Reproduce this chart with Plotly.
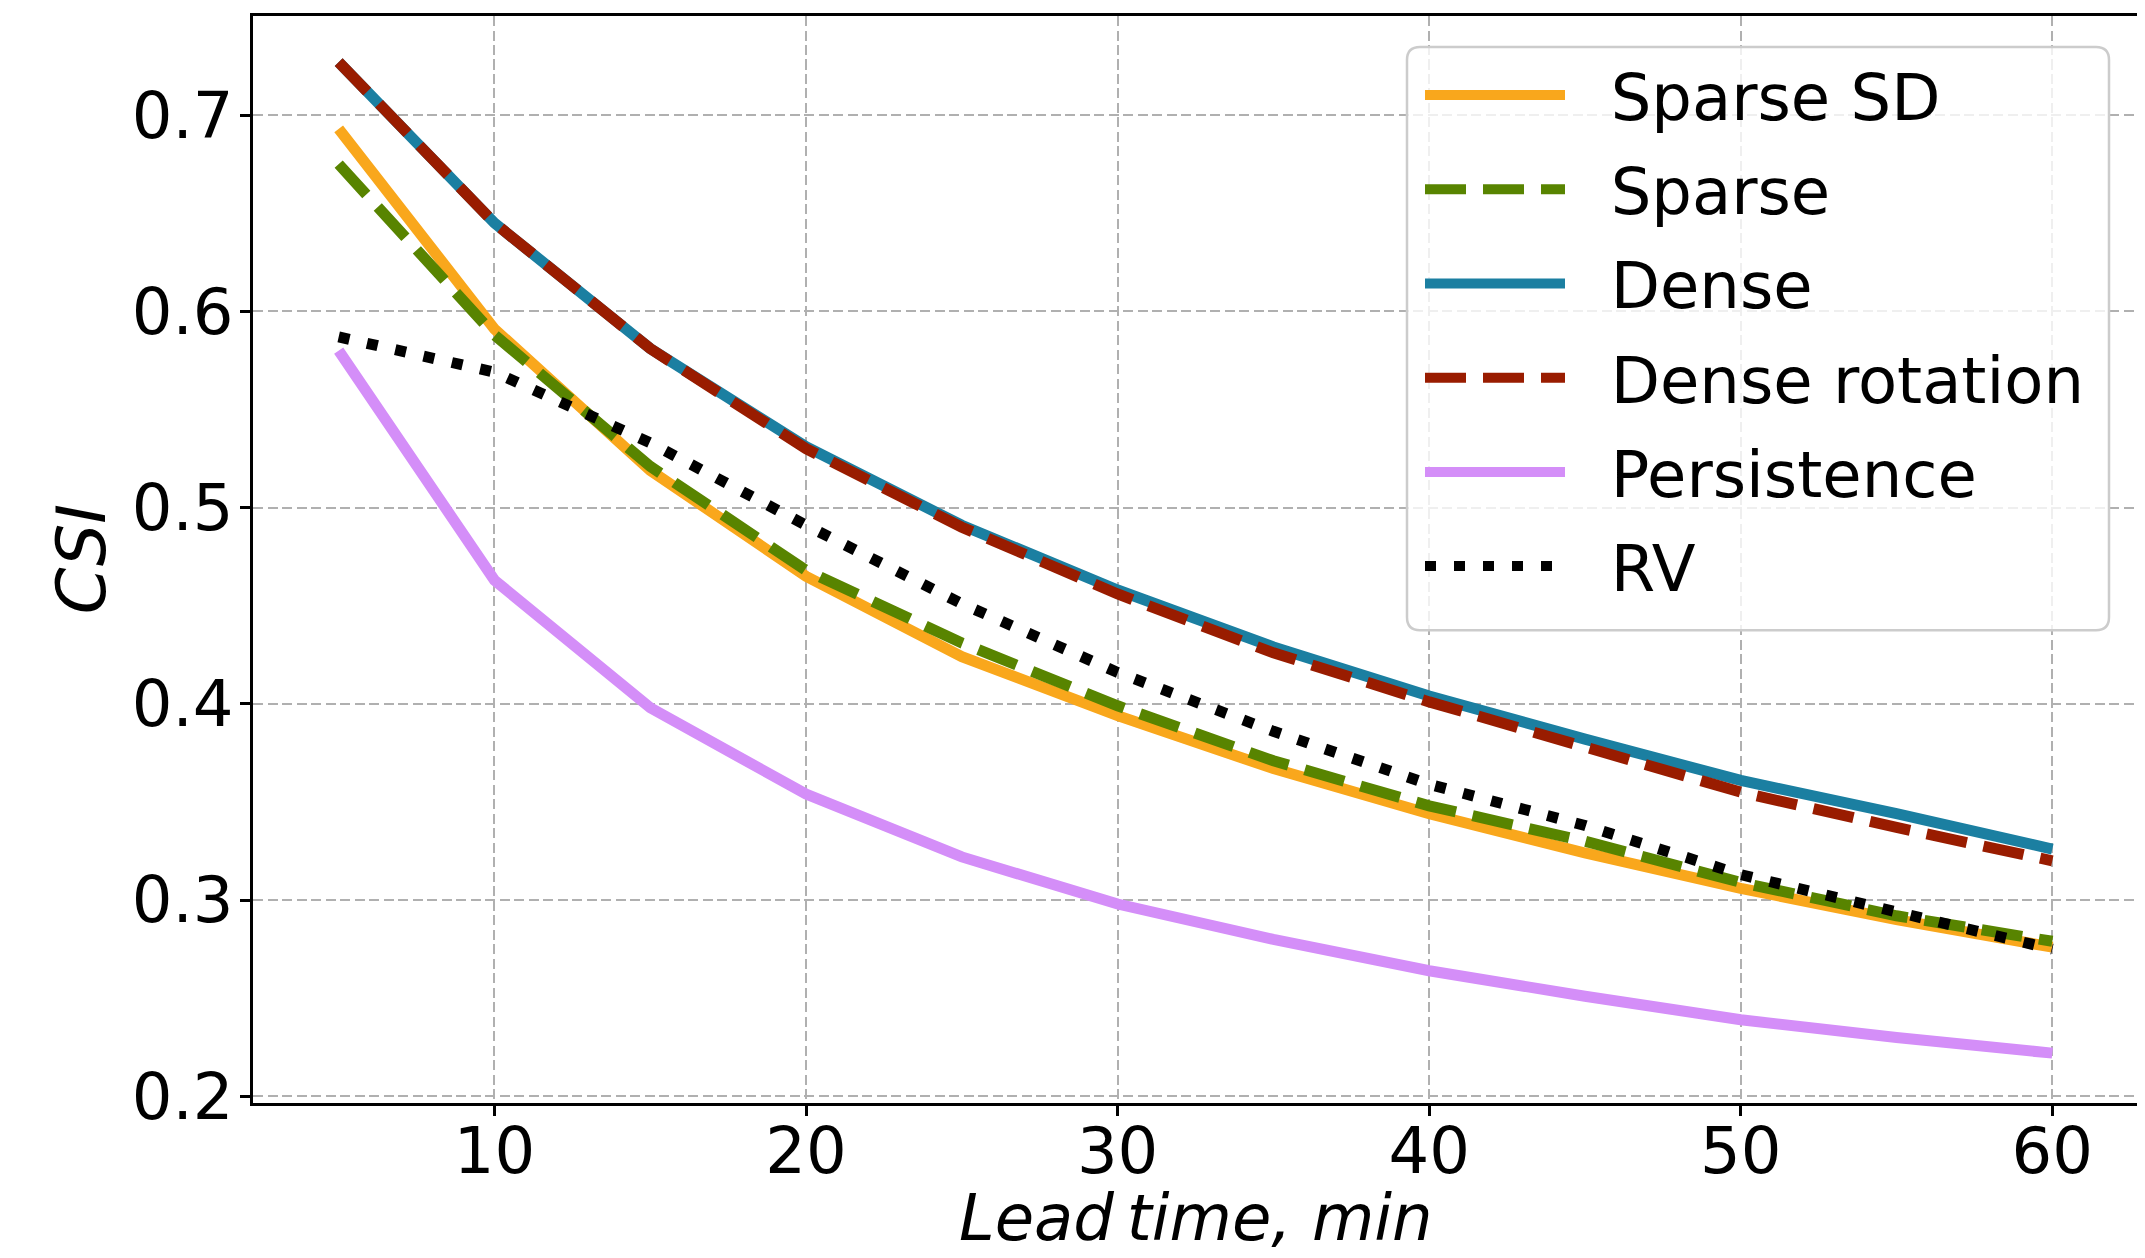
import plotly.graph_objects as go

lead_time = [5, 10, 15, 20, 25, 30, 35, 40, 45, 50, 55, 60]

sparse_sd = [0.693, 0.591, 0.519, 0.465, 0.424, 0.394, 0.367, 0.344, 0.324, 0.306, 0.290, 0.276]
sparse = [0.675, 0.588, 0.521, 0.468, 0.431, 0.399, 0.371, 0.348, 0.330, 0.309, 0.292, 0.279]
dense = [0.727, 0.645, 0.581, 0.531, 0.491, 0.458, 0.429, 0.404, 0.382, 0.361, 0.344, 0.326]
dense_rotation = [0.727, 0.645, 0.581, 0.530, 0.490, 0.456, 0.426, 0.401, 0.378, 0.355, 0.337, 0.320]
persistence = [0.580, 0.463, 0.398, 0.354, 0.322, 0.298, 0.280, 0.264, 0.251, 0.239, 0.230, 0.222]
rv = [0.587, 0.569, 0.533, 0.491, 0.451, 0.416, 0.386, 0.359, 0.338, 0.313, 0.294, 0.275]

x_ticks = [10, 20, 30, 40, 50, 60]
y_ticks = [0.2, 0.3, 0.4, 0.5, 0.6, 0.7]
y_tick_labels = ["0.2", "0.3", "0.4", "0.5", "0.6", "0.7"]

series = [
    ("Sparse SD", sparse_sd, "#F9A71C", "solid"),
    ("Sparse", sparse, "#588400", "41px,17px"),
    ("Dense", dense, "#1B7FA1", "solid"),
    ("Dense rotation", dense_rotation, "#991C00", "41px,17px"),
    ("Persistence", persistence, "#D48EF8", "solid"),
    ("RV", rv, "#000000", "11px,18px"),
]

# page has an 8px body margin: figure coords = page coords - 8
OFF = 8
W, H = 2145 - OFF, 1258 - OFF
L, R, T, B = 253 - OFF, 2138 - OFF, 16 - OFF, 1102.6 - OFF
FS = 64

fig = go.Figure()
for i, (name, vals, color, dash) in enumerate(series):
    fig.add_trace(go.Scatter(
        x=lead_time, y=vals, name="\u00a0\u00a0" + name, mode="lines",
        legendgroup=f"g{i}",
        line=dict(color=color, width=11, dash=dash),
    ))

def px2paper(px, py):
    # px, py in page pixel coordinates
    fx, fy = px - OFF, py - OFF
    return (fx - L) / (R - L), (B - fy) / (B - T)

# rounded legend frame
bx0, by0 = px2paper(1407, 630)
bx1, by1 = px2paper(2109, 47)
rx = 13 / (R - L)
ry = 13 / (B - T)
path = (
    f"M{bx0 + rx},{by1} L{bx1 - rx},{by1} Q{bx1},{by1} {bx1},{by1 - ry} "
    f"L{bx1},{by0 + ry} Q{bx1},{by0} {bx1 - rx},{by0} "
    f"L{bx0 + rx},{by0} Q{bx0},{by0} {bx0},{by0 + ry} "
    f"L{bx0},{by1 - ry} Q{bx0},{by1} {bx0 + rx},{by1} Z"
)
fig.add_shape(type="path", path=path, xref="paper", yref="paper",
              fillcolor="rgba(255,255,255,0.8)", line=dict(color="#cccccc", width=2.5),
              layer="above")

lx, ly = px2paper(1420, 47)

# axis titles as annotations
xt_x, xt_y = px2paper((253 + 2138) / 2, 1218)
yt_x, yt_y = px2paper(82, 559)
fig.add_annotation(text="<i>Lead\u2009time, min</i>", xref="paper", yref="paper",
                   x=xt_x, y=xt_y, xanchor="center", yanchor="middle", showarrow=False,
                   font=dict(family="DejaVu Sans", size=FS, color="black"))
fig.add_annotation(text="<i>CSI</i>", xref="paper", yref="paper", textangle=-90,
                   x=yt_x, y=yt_y, xanchor="center", yanchor="middle", showarrow=False,
                   font=dict(family="DejaVu Sans", size=67, color="black"))

fig.update_layout(
    width=W, height=H,
    margin=dict(l=L, r=W - R, t=T, b=H - B, pad=0),
    paper_bgcolor="white", plot_bgcolor="white",
    font=dict(family="DejaVu Sans", size=FS, color="black"),
    showlegend=True,
    legend=dict(
        x=lx, y=ly, xanchor="left", yanchor="top",
        bgcolor="rgba(0,0,0,0)", borderwidth=0,
        font=dict(family="DejaVu Sans", size=FS, color="black"),
        itemwidth=140, traceorder="grouped", tracegroupgap=8,
    ),
    xaxis=dict(
        range=[2.25, 62.75], tickvals=x_ticks, automargin=False,
        showline=True, linecolor="black", linewidth=2.5, mirror=True,
        ticks="outside", ticklen=10, tickwidth=2.5, tickcolor="black",
        ticklabelstandoff=-20,
        showgrid=True, gridcolor="#b0b0b0", gridwidth=2, griddash="10px,4.5px",
        zeroline=False,
        tickfont=dict(family="DejaVu Sans", size=FS, color="black"),
    ),
    yaxis=dict(
        range=[0.1966, 0.7505], tickvals=y_ticks, ticktext=y_tick_labels, automargin=False,
        showline=True, linecolor="black", linewidth=2.5, mirror=True,
        ticks="outside", ticklen=10, tickwidth=2.5, tickcolor="black",
        ticklabelstandoff=-6,
        showgrid=True, gridcolor="#b0b0b0", gridwidth=2, griddash="10px,4.5px",
        zeroline=False,
        tickfont=dict(family="DejaVu Sans", size=FS, color="black"),
    ),
)

fig.write_html("out.html")
